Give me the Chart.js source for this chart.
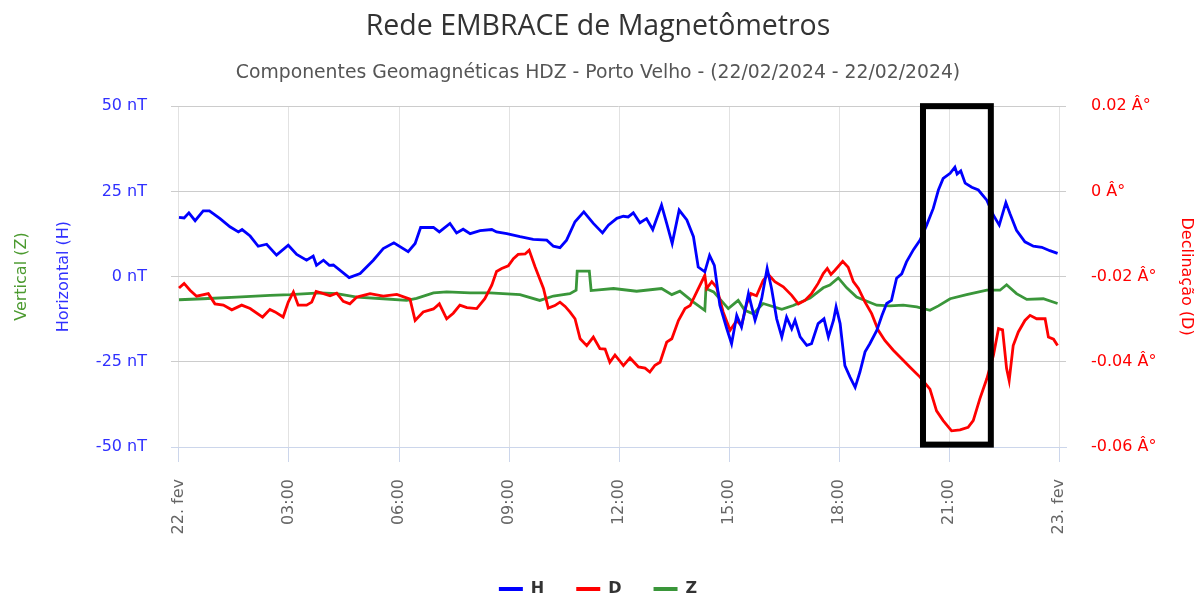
<!DOCTYPE html>
<html>
<head>
<meta charset="utf-8">
<title>Rede EMBRACE de Magnetômetros</title>
<script src="https://cdn.jsdelivr.net/npm/chart.js"></script>
<style>
  html, body { margin: 0; padding: 0; background: #fff; overflow: hidden; }
  #wrap { width: 1196px; height: 598px; }
</style>
</head>
<body>
<div id="wrap"><canvas id="magChart" width="1196" height="598"></canvas></div>
<script>
// Horizontal component H (nT), time in hours of 22/02/2024
const hTimes = [0, 0.14, 0.27, 0.44, 0.66, 0.83, 1.12, 1.39, 1.62, 1.72, 1.94, 2.16, 2.39, 2.66, 2.98, 3.21,
  3.48, 3.66, 3.75, 3.94, 4.1, 4.21, 4.64, 4.94, 5.3, 5.57, 5.86, 6.25, 6.44, 6.59, 6.94, 7.1, 7.39, 7.57,
  7.75, 7.94, 8.21, 8.53, 8.66, 8.94, 9.3, 9.66, 10.03, 10.21, 10.39, 10.57, 10.8, 11.04, 11.3, 11.55, 11.71,
  11.94, 12.12, 12.25, 12.39, 12.57, 12.75, 12.92, 13.16, 13.3, 13.45, 13.64, 13.85, 14.03, 14.16, 14.34,
  14.47, 14.6, 14.75, 14.94, 15.07, 15.21, 15.34, 15.53, 15.71, 15.89, 16.04, 16.16, 16.3, 16.44, 16.57,
  16.71, 16.8, 16.94, 17.12, 17.25, 17.43, 17.59, 17.71, 17.85, 17.92, 18.03, 18.16, 18.3, 18.44, 18.57,
  18.71, 18.84, 19.03, 19.17, 19.3, 19.43, 19.57, 19.71, 19.84, 20.03, 20.21, 20.39, 20.57, 20.71, 20.84,
  21.03, 21.16, 21.22, 21.32, 21.44, 21.62, 21.8, 22.03, 22.21, 22.37, 22.55, 22.66, 22.84, 23.07, 23.3,
  23.53, 23.75, 23.96];
const hValues = [17.4, 17.2, 18.7, 16.4, 19.3, 19.3, 17, 14.6, 13.1, 13.8, 11.9, 8.9, 9.5, 6.3, 9.2, 6.5,
  4.8, 6, 3.3, 4.8, 3.3, 3.4, -0.3, 0.9, 4.8, 8.2, 9.9, 7.3, 9.7, 14.4, 14.4, 13.1, 15.6, 12.8,
  13.9, 12.6, 13.5, 13.8, 13.1, 12.6, 11.7, 10.9, 10.7, 8.9, 8.5, 10.7, 16.1, 19, 15.6, 12.8, 15.1,
  17.1, 17.7, 17.5, 18.7, 15.8, 17, 13.8, 21, 15.6, 9.7, 19.5, 16.6, 11.7, 2.8, 1.4,
  6.2, 3.3, -8.4, -15.3, -19.7, -11.4, -14.8, -5, -12.8, -6.5, 2.4, -3.5, -12.4, -17.7, -11.9,
  -15.3, -12.8, -17.7, -20.2, -19.7, -13.8, -12.4, -17.7, -12.8, -8.9, -13.8, -26.1, -29.5, -32.5, -28,
  -22.1, -19.7, -15.8, -11.4, -7.9, -7, -0.5, 0.8, 4.3, 7.9, 10.7, 15.1, 20, 25.4, 28.8,
  30.3, 32.1, 30.1, 31, 27.4, 26.2, 25.4, 22.4, 18, 15.1, 21.7, 18.5, 13.6, 10.2, 8.9,
  8.6, 7.6, 6.8];

// Declination D (degrees)
const dTimes = [0, 0.14, 0.3, 0.48, 0.8, 0.98, 1.21, 1.44, 1.71, 1.94, 2.28, 2.48, 2.62, 2.84, 2.98, 3.12,
  3.25, 3.48, 3.62, 3.74, 3.94, 4.12, 4.3, 4.48, 4.66, 4.85, 5.21, 5.57, 5.94, 6.3, 6.44, 6.66, 6.94, 7.1,
  7.3, 7.48, 7.66, 7.85, 8.12, 8.34, 8.53, 8.66, 8.8, 8.98, 9.12, 9.25, 9.44, 9.55, 9.71, 9.94, 10.07,
  10.25, 10.39, 10.53, 10.66, 10.8, 10.94, 11.12, 11.3, 11.48, 11.62, 11.75, 11.89, 12.12, 12.3, 12.53,
  12.71, 12.84, 12.98, 13.12, 13.3, 13.44, 13.62, 13.8, 13.94, 14.12, 14.34, 14.39, 14.53, 14.66, 14.84,
  15.03, 15.21, 15.34, 15.48, 15.6, 15.75, 15.93, 16.07, 16.25, 16.48, 16.71, 16.89, 17.07, 17.25, 17.43,
  17.57, 17.68, 17.78, 17.89, 18.1, 18.25, 18.39, 18.53, 18.71, 18.89, 19.07, 19.25, 19.48, 19.71, 19.93,
  20.21, 20.48, 20.66, 20.84, 21.07, 21.3, 21.52, 21.66, 21.84, 22.03, 22.21, 22.35, 22.46, 22.57, 22.64,
  22.75, 22.89, 23.07, 23.21, 23.39, 23.62, 23.71, 23.85, 23.96];
const dValues = [-0.0227, -0.0216, -0.0232, -0.0246, -0.024, -0.0264, -0.0267, -0.0278, -0.0267, -0.0275,
  -0.0295, -0.0277, -0.0283, -0.0295, -0.026, -0.0236, -0.0267, -0.0267, -0.026, -0.0235, -0.024, -0.0245,
  -0.0239, -0.0258, -0.0264, -0.0248, -0.024, -0.0246, -0.0242, -0.0253, -0.0303, -0.0283, -0.0276, -0.0264,
  -0.0299, -0.0286, -0.0267, -0.0273, -0.0275, -0.0252, -0.022, -0.0188, -0.0181, -0.0175, -0.0158, -0.0148,
  -0.0147, -0.0138, -0.0177, -0.0228, -0.0274, -0.0268, -0.026, -0.027, -0.0283, -0.0299, -0.0346, -0.0362,
  -0.0342, -0.0369, -0.037, -0.0401, -0.0384, -0.0409, -0.0391, -0.0412, -0.0415, -0.0424, -0.0408, -0.0401,
  -0.0354, -0.0346, -0.0303, -0.0275, -0.0268, -0.0236, -0.0197, -0.0228, -0.0212, -0.0225, -0.0283,
  -0.0326, -0.0303, -0.0315, -0.0264, -0.024, -0.0245, -0.0209, -0.0195, -0.0212, -0.0224, -0.0244, -0.0264,
  -0.0256, -0.024, -0.0216, -0.0193, -0.0181, -0.0195, -0.0185, -0.0164, -0.0178, -0.0212, -0.0228, -0.026,
  -0.0287, -0.0326, -0.035, -0.0373, -0.0393, -0.0412, -0.0436, -0.0464, -0.0515, -0.0538, -0.0562, -0.056,
  -0.0554, -0.0538, -0.0487, -0.044, -0.0385, -0.0322, -0.0325, -0.0416, -0.0444, -0.0362, -0.033, -0.0303,
  -0.0291, -0.0299, -0.0299, -0.0342, -0.0347, -0.0362];

// Vertical component Z (nT)
const zTimes = [0, 0.66, 1.57, 2.48, 3.03, 3.85, 4.3, 4.85, 5.57, 6.21, 6.48, 6.94, 7.3, 7.94, 8.48, 9.3,
  9.84, 10.21, 10.66, 10.83, 10.86, 11.19, 11.24, 11.85, 12.48, 13.16, 13.44, 13.66, 14.03, 14.34, 14.37,
  14.58, 14.98, 15.25, 15.43, 15.66, 15.93, 16.44, 16.75, 17.21, 17.57, 17.75, 17.98, 18.21, 18.48, 18.71,
  19.03, 19.39, 19.75, 20.12, 20.48, 20.71, 21.03, 21.48, 22.03, 22.39, 22.57, 22.84, 23.12, 23.57, 23.96];
const zValues = [-6.8, -6.5, -6, -5.5, -5.3, -4.8, -5, -6, -6.5, -7, -6.4, -4.8, -4.5, -4.8, -4.8, -5.3,
  -7, -5.7, -5, -4, 1.6, 1.6, -4.1, -3.5, -4.3, -3.5, -5.3, -4.3, -7.5, -9.9, -3.5,
  -4.5, -9.4, -7, -9.9, -10.9, -7.9, -9.6, -8.5, -6.3, -3.3, -2.5, -0.4, -3.3, -6, -7,
  -8.4, -8.6, -8.4, -8.9, -9.9, -8.6, -6.5, -5.3, -4, -4, -2.4, -5, -6.7, -6.5, -7.9];

const tickHours = [0, 3, 6, 9, 12, 15, 18, 21, 24];
const tickLabels = ['22. fev', '03:00', '06:00', '09:00', '12:00', '15:00', '18:00', '21:00', '23. fev'];

// highlighted interval: [start hour, end hour, top nT, bottom nT]
const highlightBox = [20.29, 22.14, 50, -49.3];

function toPoints(times, values) {
  return times.map((t, i) => ({ x: t, y: values[i] }));
}

Chart.defaults.font.family = "'DejaVu Sans', sans-serif";

const boxPlugin = {
  id: 'highlightBox',
  afterDatasetsDraw(chart) {
    const { ctx, scales } = chart;
    const x0 = scales.x.getPixelForValue(highlightBox[0]);
    const x1 = scales.x.getPixelForValue(highlightBox[1]);
    const y0 = scales.yH.getPixelForValue(highlightBox[2]);
    const y1 = scales.yH.getPixelForValue(highlightBox[3]);
    ctx.save();
    ctx.lineWidth = 6;
    ctx.strokeStyle = '#000';
    ctx.strokeRect(x0, y0, x1 - x0, y1 - y0);
    ctx.restore();
  }
};

const ctx = document.getElementById('magChart').getContext('2d');

new Chart(ctx, {
  type: 'line',
  data: {
    datasets: [
      { label: 'H', data: toPoints(hTimes, hValues), borderColor: '#0000ff', backgroundColor: '#0000ff', yAxisID: 'yH' },
      { label: 'D', data: toPoints(dTimes, dValues), borderColor: '#ff0000', backgroundColor: '#ff0000', yAxisID: 'yD' },
      { label: 'Z', data: toPoints(zTimes, zValues), borderColor: '#3a963a', backgroundColor: '#3a963a', yAxisID: 'yZ' }
    ]
  },
  options: {
    responsive: false,
    animation: false,
    parsing: false,
    layout: { padding: { left: 0, right: 0, top: 0, bottom: -9 } },
    elements: {
      line: { borderWidth: 2.8, tension: 0 },
      point: { radius: 0 }
    },
    plugins: {
      tooltip: { enabled: false },
      title: {
        display: true,
        text: 'Rede EMBRACE de Magnetômetros',
        color: '#333333',
        font: { family: "'Open Sans', sans-serif", size: 28.5, weight: 'normal' },
        padding: { top: 10, bottom: 18 }
      },
      subtitle: {
        display: true,
        text: 'Componentes Geomagnéticas HDZ - Porto Velho - (22/02/2024 - 22/02/2024)',
        color: '#555555',
        font: { size: 18.8 },
        padding: { top: 0, bottom: 21.4 }
      },
      legend: {
        position: 'bottom',
        labels: {
          usePointStyle: true,
          pointStyle: 'line',
          pointStyleWidth: 24,
          padding: 32,
          color: '#333333',
          font: { size: 16, weight: 'bold' },
          generateLabels: chart => Chart.defaults.plugins.legend.labels.generateLabels(chart)
            .map(item => ({ ...item, lineWidth: 4 }))
        }
      }
    },
    scales: {
      x: {
        type: 'linear',
        min: -0.218,
        max: 24.19,
        afterBuildTicks: scale => { scale.ticks = tickHours.map(v => ({ value: v })); },
        afterFit: scale => { scale.height = 102; },
        ticks: {
          autoSkip: false,
          minRotation: 90,
          maxRotation: 90,
          padding: 17,
          color: '#666666',
          font: { size: 16 },
          callback: (value, index) => tickLabels[index]
        },
        grid: { color: '#e2e2e2', tickColor: '#ccd6eb', tickLength: 15 },
        border: { color: '#ccd6eb', width: 1 }
      },
      yH: {
        position: 'left',
        min: -50,
        max: 50,
        weight: 0,
        afterFit: scale => { scale.width = 133; },
        ticks: {
          stepSize: 25,
          padding: 24,
          color: '#3030ff',
          font: { size: 16 },
          callback: v => v + ' nT'
        },
        grid: {
          color: c => (c.tick && c.tick.value === -50) ? 'rgba(0,0,0,0)' : '#cccccc',
          drawTicks: false
        },
        border: { display: false },
        title: {
          display: true,
          text: 'Horizontal (H)',
          color: '#3030ff',
          font: { size: 16 },
          padding: { top: 16, bottom: 0 }
        }
      },
      yZ: {
        position: 'left',
        min: -50,
        max: 50,
        weight: 1,
        afterFit: scale => { scale.width = 38; },
        ticks: { display: false },
        grid: { display: false },
        border: { display: false },
        title: {
          display: true,
          text: 'Vertical (Z)',
          color: '#4b9a2f',
          font: { size: 16 },
          padding: { top: 12, bottom: 0 }
        }
      },
      yD: {
        position: 'right',
        min: -0.06,
        max: 0.02,
        afterFit: scale => { scale.width = 130; },
        ticks: {
          stepSize: 0.02,
          padding: 25,
          color: '#ff0000',
          font: { size: 16 },
          callback: v => (Math.round(v * 100) / 100) + ' Â°'
        },
        grid: { drawOnChartArea: false, drawTicks: false },
        border: { display: false },
        title: {
          display: true,
          text: 'Declinação (D)',
          color: '#ff0000',
          font: { size: 16 },
          padding: { top: 0.4, bottom: 0 }
        }
      }
    }
  },
  plugins: [boxPlugin]
});
</script>
</body>
</html>
